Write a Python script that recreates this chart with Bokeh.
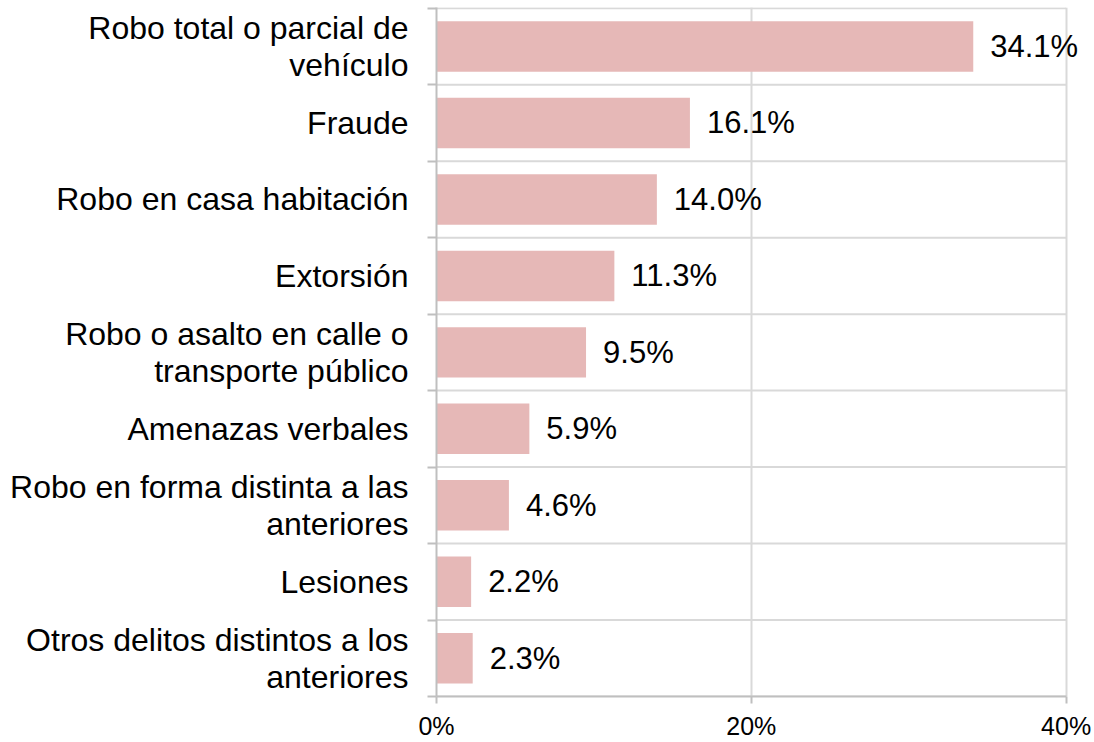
from bokeh.plotting import figure
from bokeh.models import ColumnDataSource, FixedTicker, Range1d, Label
from bokeh.embed import file_html
from bokeh.resources import INLINE

categories = [
    "Robo total o parcial de\nvehículo",
    "Fraude",
    "Robo en casa habitación",
    "Extorsión",
    "Robo o asalto en calle o\ntransporte público",
    "Amenazas verbales",
    "Robo en forma distinta a las\nanteriores",
    "Lesiones",
    "Otros delitos distintos a los\nanteriores",
]
values = [34.1, 16.1, 14.0, 11.3, 9.5, 5.9, 4.6, 2.2, 2.3]
value_labels = ["34.1%", "16.1%", "14.0%", "11.3%", "9.5%", "5.9%", "4.6%", "2.2%", "2.3%"]
x_ticks = [0, 20, 40]
x_tick_labels = ["0%", "20%", "40%"]

n = len(categories)
ys = [n - 1 - i for i in range(n)]
boundaries = [k - 0.5 for k in range(n + 1)]
source = ColumnDataSource(dict(y=ys, value=values, label=value_labels))

FONT = "Liberation Sans"
AXIS_COLOR = "#BFBFBF"
GRID_COLOR = "#D9D9D9"

x_max = x_ticks[-1]
# a little extra room on the right so the largest value label is not clipped
p = figure(
    width=1094, height=742,
    x_range=Range1d(0, x_max * 1.026), y_range=Range1d(-0.5, n - 0.49),
    output_backend="svg", toolbar_location=None,
    min_border_left=436, min_border_right=12, min_border_top=7, min_border_bottom=44,
)
p.outline_line_color = None
p.background_fill_color = "white"

# category separators (horizontal grid lines) limited to the 0–40% span
p.segment(x0=[0] * len(boundaries), y0=boundaries,
          x1=[x_max] * len(boundaries), y1=boundaries,
          line_color=GRID_COLOR, line_width=2, level="underlay")

p.hbar(y="y", right="value", left=0, height=0.66, source=source,
       fill_color="#E6B8B7", line_color=None)

for yv, v, lab in zip(ys, values, value_labels):
    p.add_layout(Label(x=v, y=yv, text=lab, x_offset=17,
                       text_baseline="middle", text_align="left",
                       text_font=FONT, text_font_size="31px", text_color="black"))

# y axis
yax = p.yaxis[0]
yax.ticker = FixedTicker(ticks=ys, minor_ticks=boundaries)
yax.major_label_overrides = {y: c for y, c in zip(ys, categories)}
yax.major_label_text_font = FONT
yax.major_label_text_font_size = "32px"
yax.major_label_text_color = "black"
yax.major_label_text_line_height = 1.02
yax.major_label_standoff = 19
yax.axis_line_color = AXIS_COLOR
yax.axis_line_width = 2
yax.major_tick_line_color = None
yax.major_tick_out = 0
yax.major_tick_in = 0
yax.minor_tick_line_color = AXIS_COLOR
yax.minor_tick_line_width = 2
yax.minor_tick_out = 9
yax.minor_tick_in = 0

# x axis
xax = p.xaxis[0]
xax.ticker = FixedTicker(ticks=x_ticks, minor_ticks=[])
xax.bounds = (0, x_max)
xax.major_label_overrides = {t: l for t, l in zip(x_ticks, x_tick_labels)}
xax.major_label_text_font = FONT
xax.major_label_text_font_size = "25px"
xax.major_label_text_color = "black"
xax.major_label_standoff = 8
xax.axis_line_color = AXIS_COLOR
xax.axis_line_width = 2
xax.major_tick_line_color = AXIS_COLOR
xax.major_tick_line_width = 2
xax.major_tick_out = 7
xax.major_tick_in = 0
xax.minor_tick_line_color = None

# grids
p.xgrid.grid_line_color = GRID_COLOR
p.xgrid.grid_line_width = 2
p.ygrid.grid_line_color = None
p.ygrid.minor_grid_line_color = None

open("out.html", "w").write(file_html(p, INLINE))
